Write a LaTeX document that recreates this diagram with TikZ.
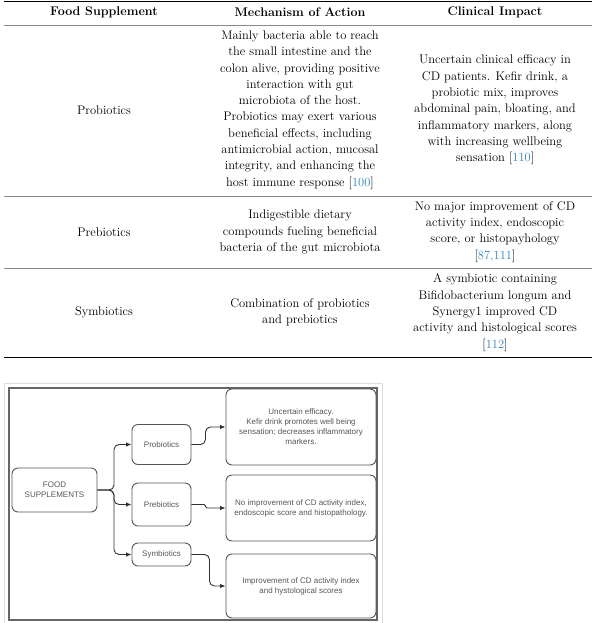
\documentclass[tikz,border=0pt]{standalone}
\usepackage{fontspec}
\newfontfamily\chartfont{Liberation Sans}
\usetikzlibrary{arrows.meta}
\newcommand{\refnum}[1]{[\textcolor{citeblue}{#1}]}

\begin{document}
\begin{tikzpicture}[x=1pt,y=-1pt]
  \definecolor{citeblue}{HTML}{2E86C1}
  \definecolor{rulegray}{HTML}{8A8A8A}
  \definecolor{boxgray}{HTML}{555555}
  \definecolor{framegray}{HTML}{DDDDDD}
  \tikzstyle{cell}=[align=center, inner sep=0pt, font=\fontsize{12.5}{16.3}\selectfont]
  \tikzstyle{head}=[cell, font=\fontsize{12.5}{16.3}\selectfont\bfseries]
  \tikzstyle{box}=[draw=boxgray, line width=0.9pt, rounded corners=6pt, align=center,
    inner sep=0pt, text=boxgray, font=\chartfont\fontsize{8}{10}\selectfont]
  \tikzstyle{link}=[draw=black!80, line width=0.9pt, rounded corners=5pt,
    -{Latex[length=5.5pt,width=4.5pt]}]

  \useasboundingbox (0,0) rectangle (595,623);

  % table rules
  \draw[line width=1.2pt] (4,1.5) -- (592,1.5);
  \draw[rulegray, line width=0.8pt] (4,25) -- (592,25);
  \draw[rulegray, line width=1pt] (4,196) -- (592,196);
  \draw[rulegray, line width=1pt] (4,268) -- (592,268);
  \draw[line width=1.2pt] (4,357.5) -- (592,357.5);

  % header
  \node[head] (h1) at (104,12.5) {Food Supplement};
  \node[head] (h2) at (300,12.5) {Mechanism of Action};
  \node[head] (h3) at (495,12.5) {Clinical Impact};

  % probiotics row
  \node[cell] (pro1) at (104,110) {Probiotics};
  \node[cell] (pro2) at (300,110) {Mainly bacteria able to reach\\
    the small intestine and the\\
    colon alive, providing positive\\
    interaction with gut\\
    microbiota of the host.\\
    Probiotics may exert various\\
    beneficial effects, including\\
    antimicrobial action, mucosal\\
    integrity, and enhancing the\\
    host immune response \refnum{100}};
  \node[cell] (pro3) at (495,110) {Uncertain clinical efficacy in\\
    CD patients. Kefir drink, a\\
    probiotic mix, improves\\
    abdominal pain, bloating, and\\
    inflammatory markers, along\\
    with increasing wellbeing\\
    sensation \refnum{110}};

  % prebiotics row
  \node[cell] (pre1) at (104,232) {Prebiotics};
  \node[cell] (pre2) at (300,232) {Indigestible dietary\\
    compounds fueling beneficial\\
    bacteria of the gut microbiota};
  \node[cell] (pre3) at (495,232) {No major improvement of CD\\
    activity index, endoscopic\\
    score, or histopayhology\\
    \refnum{87,111}};

  % symbiotics row
  \node[cell] (sym1) at (104,312.5) {Symbiotics};
  \node[cell] (sym2) at (300,312.5) {Combination of probiotics\\
    and prebiotics};
  \node[cell] (sym3) at (495,312.5) {A symbiotic containing\\
    Bifidobacterium longum and\\
    Synergy1 improved CD\\
    activity and histological scores\\
    \refnum{112}};

  % chart frame
  \draw[framegray, line width=0.8pt] (4,623) -- (4,383) -- (382,383) -- (382,623);
  \draw[black!60, line width=1.3pt] (9,388) rectangle (377,620);

  % chart boxes
  \node[box, minimum width=85pt, minimum height=44pt] (food) at (54.5,490) {FOOD\\SUPPLEMENTS};
  \node[box, minimum width=59pt, minimum height=40pt] (pro) at (161.5,444.5) {Probiotics};
  \node[box, minimum width=59pt, minimum height=43pt] (pre) at (161.5,504.5) {Prebiotics};
  \node[box, minimum width=59pt, minimum height=23pt] (sym) at (161.5,554.5) {Symbiotics};
  \node[box, minimum width=150pt, minimum height=76pt] (res1) at (301,427) {Uncertain efficacy.\\
    Kefir drink promotes well being\\
    sensation; decreases inflammatory\\
    markers.};
  \node[box, minimum width=150pt, minimum height=66pt] (res2) at (301,508) {No improvement of CD activity index,\\
    endoscopic score and histopathology.};
  \node[box, minimum width=150pt, minimum height=64pt] (res3) at (301,586) {Improvement of CD activity index\\
    and hystological scores};

  % connectors
  \coordinate (fork) at (114,490);
  \draw[link] (food.east) -- (fork) |- (pro.west);
  \draw[link] (food.east) -- (fork) |- (pre.west);
  \draw[link] (food.east) -- (fork) |- (sym.west);
  \draw[link] (pro.east) -- ++(14,0) |- (res1.west);
  \draw[link, rounded corners=1.5pt] (pre.east) -- ++(14,0) |- (res2.west);
  \draw[link] (sym.east) -- ++(18,0) |- (res3.west);
\end{tikzpicture}
\end{document}
